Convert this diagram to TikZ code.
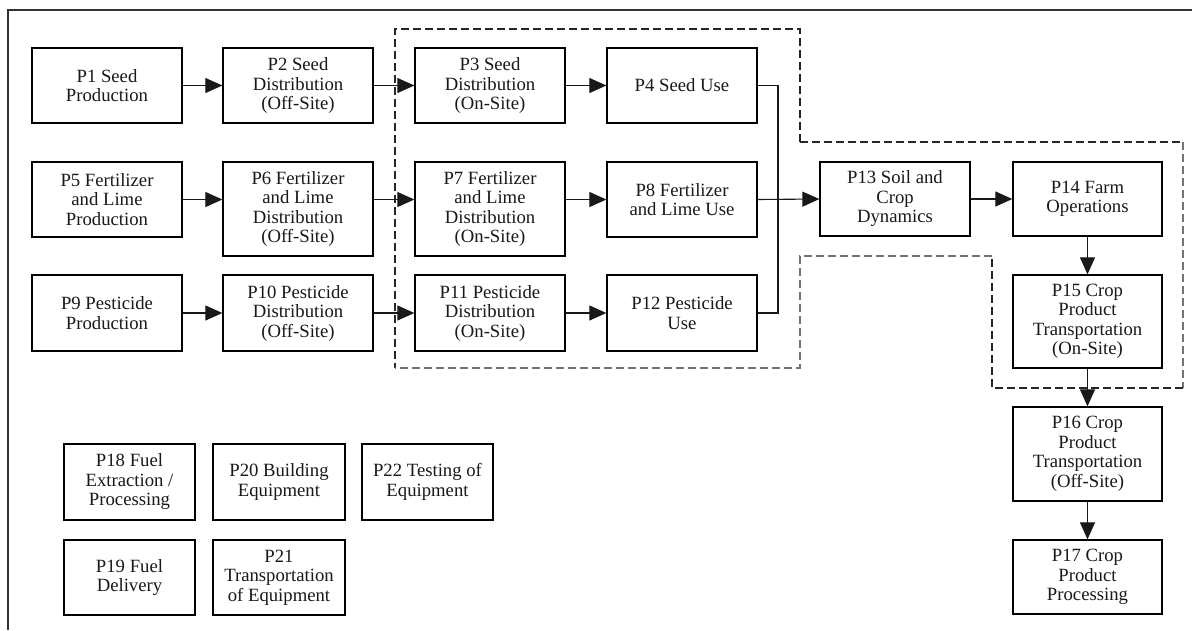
\documentclass[tikz,border=0pt]{standalone}
\usepackage{fontspec}
\setmainfont{Liberation Serif}
\usetikzlibrary{arrows.meta}

\tikzset{
  procbox/.style={draw=black, line width=1.3pt, align=center, inner sep=1pt,
    font=\fontsize{18.7}{19.5}\selectfont, text=black!90},
  flow/.style={line width=1.1pt, draw=black!90},
  arr/.style={flow, -{Triangle[length=17pt,width=15pt]}},
  bound/.style={line width=1.1pt, dash pattern=on 8pt off 4pt},
  frameline/.style={line width=1.4pt, draw=black!80}
}

\begin{document}
\begin{tikzpicture}[x=1pt,y=-1pt]
\useasboundingbox (0,0) rectangle (1192,630);
\fill[white] (0,0) rectangle (1192,630);

% outer frame (top and left edges)
\draw[frameline] (1192,10) -- (8,10) -- (8,630);

% system boundary (dashed)
\draw[bound, black!85] (800,142) -- (800,29) -- (395,29) -- (395,368);
\draw[bound, black!85] (800,142) -- (1183,142);
\draw[bound, black!55] (1183,142) -- (1183,388);
\draw[bound, black!85] (1183,388) -- (992,388) -- (992,256);
\draw[bound, black!55] (992,256) -- (800,256) -- (800,368) -- (395,368);

% row 1: seed
\node[procbox, minimum width=150pt, minimum height=75pt] (p1) at (107,85.5) {P1 Seed\\Production};
\node[procbox, minimum width=150pt, minimum height=75pt] (p2) at (298,85.5) {P2 Seed\\Distribution\\(Off-Site)};
\node[procbox, minimum width=150pt, minimum height=75pt] (p3) at (490,85.5) {P3 Seed\\Distribution\\(On-Site)};
\node[procbox, minimum width=150pt, minimum height=75pt] (p4) at (682,85.5) {P4 Seed Use};

% row 2: fertilizer and lime
\node[procbox, minimum width=150pt, minimum height=75pt] (p5) at (107,199.5) {P5 Fertilizer\\and Lime\\Production};
\node[procbox, minimum width=150pt, minimum height=94pt] (p6) at (298,209) {P6 Fertilizer\\and Lime\\Distribution\\(Off-Site)};
\node[procbox, minimum width=150pt, minimum height=94pt] (p7) at (490,209) {P7 Fertilizer\\and Lime\\Distribution\\(On-Site)};
\node[procbox, minimum width=150pt, minimum height=75pt] (p8) at (682,199.5) {P8 Fertilizer\\and Lime Use};

% row 3: pesticide
\node[procbox, minimum width=150pt, minimum height=76pt] (p9) at (107,313) {P9 Pesticide\\Production};
\node[procbox, minimum width=150pt, minimum height=76pt] (p10) at (298,313) {P10 Pesticide\\Distribution\\(Off-Site)};
\node[procbox, minimum width=150pt, minimum height=76pt] (p11) at (490,313) {P11 Pesticide\\Distribution\\(On-Site)};
\node[procbox, minimum width=150pt, minimum height=76pt] (p12) at (682,313) {P12 Pesticide\\Use};

% crop chain
\node[procbox, minimum width=150pt, minimum height=74pt] (p13) at (895,199) {P13 Soil and\\Crop\\Dynamics};
\node[procbox, minimum width=149pt, minimum height=74pt] (p14) at (1087.5,199) {P14 Farm\\Operations};
\node[procbox, minimum width=149pt, minimum height=93pt] (p15) at (1087.5,321.5) {P15 Crop\\Product\\Transportation\\(On-Site)};
\node[procbox, minimum width=149pt, minimum height=94pt] (p16) at (1087.5,454) {P16 Crop\\Product\\Transportation\\(Off-Site)};
\node[procbox, minimum width=149pt, minimum height=74pt] (p17) at (1087.5,577) {P17 Crop\\Product\\Processing};

% supporting processes
\node[procbox, minimum width=131pt, minimum height=76pt] (p18) at (129.5,482) {P18 Fuel\\Extraction /\\Processing};
\node[procbox, minimum width=132pt, minimum height=76pt] (p20) at (279,482) {P20 Building\\Equipment};
\node[procbox, minimum width=131pt, minimum height=76pt] (p22) at (427.5,482) {P22 Testing of\\Equipment};
\node[procbox, minimum width=131pt, minimum height=75pt] (p19) at (129.5,577.5) {P19 Fuel\\Delivery};
\node[procbox, minimum width=132pt, minimum height=75pt] (p21) at (279,577.5) {P21\\Transportation\\of Equipment};

% row flows
\draw[arr] (p1.east) -- (p2.west);
\draw[arr] (p2.east) -- (p3.west);
\draw[arr] (p3.east) -- (p4.west);

\draw[arr] (p5.east) -- (p5.east -| p6.west);
\draw[arr] (p5.east -| p6.east) -- (p5.east -| p7.west);
\draw[arr] (p5.east -| p7.east) -- (p8.west);

\draw[arr] (p9.east) -- (p10.west);
\draw[arr] (p10.east) -- (p11.west);
\draw[arr] (p11.east) -- (p12.west);

% merge of the three use processes into soil and crop dynamics
\coordinate (jtop) at (778,85.5);
\coordinate (jbot) at (778,313);
\draw[flow] (p4.east) -- (jtop) -- (jbot) -- (p12.east);
\draw[arr] (p8.east) -- (p13.west);

% crop chain flows
\draw[arr] (p13.east) -- (p14.west);
\draw[arr] (p14.south) -- (p15.north);
\draw[arr] (p15.south) -- (p16.north);
\draw[arr] (p16.south) -- (p17.north);
\end{tikzpicture}
\end{document}
